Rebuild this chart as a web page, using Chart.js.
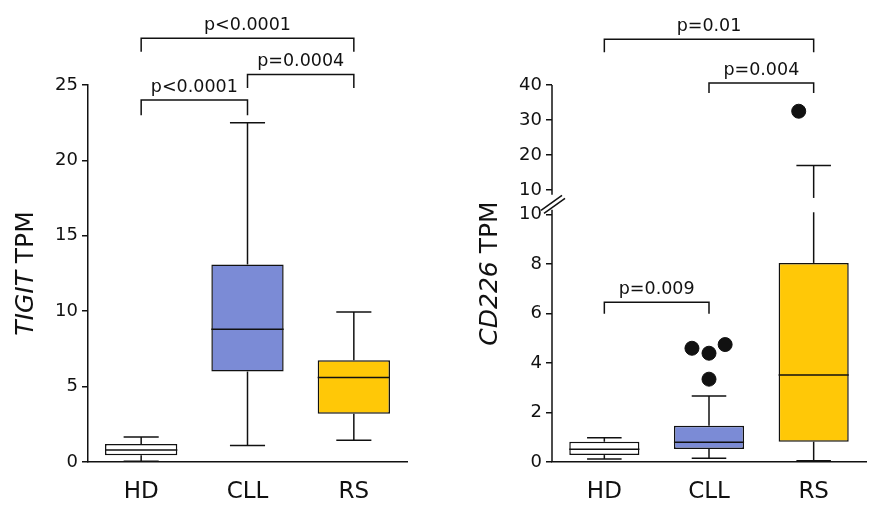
<!DOCTYPE html>
<html>
<head>
<meta charset="utf-8">
<script src="https://cdn.jsdelivr.net/npm/chart.js@4.4.1/dist/chart.umd.min.js"></script>
<style>
  html, body { margin: 0; padding: 0; background: #fff; }
  .panel { position: absolute; top: 0; width: 437px; height: 505px; }
  #left { left: 0; }
  #right { left: 437px; }
</style>
</head>
<body>
<div class="panel" id="left"><canvas id="tigitChart"></canvas></div>
<div class="panel" id="right"><canvas id="cd226Chart"></canvas></div>
<script>
// Grupos y colores
const grupos = ["HD", "CLL", "RS"];
const colores = ["#ffffff", "#7b8bd6", "#ffc807"];

// TIGIT TPM: bigote inferior, Q1, mediana, Q3, bigote superior
const tigitMin = [0.05, 1.1, 1.45];
const tigitQ1 = [0.45, 6.0, 3.2];
const tigitMediana = [0.8, 8.8, 5.6];
const tigitQ3 = [1.2, 13.1, 6.75];
const tigitMax = [1.65, 22.5, 9.95];
const tigitTicks = [0, 5, 10, 15, 20, 25];

// CD226 TPM (eje cortado en 10)
const cd226Min = [0.12, 0.15, 0.05];
const cd226Q1 = [0.28, 0.53, 0.82];
const cd226Mediana = [0.52, 0.8, 3.52];
const cd226Q3 = [0.82, 1.47, 8.05];
const cd226Max = [0.98, 2.67, 17];
const cd226AtipicosX = [0.81, 1, 1.18, 1, 2];
const cd226AtipicosY = [4.6, 4.4, 4.75, 3.35, 32.5];
const cd226TicksBajo = [0, 2, 4, 6, 8, 10];
const cd226TicksAlto = [10, 20, 30, 40];
const corte = 10;

// Comparaciones con p-valores
const tigitPares = [[0, 2], [0, 1], [1, 2]];
const tigitP = ["p<0.0001", "p<0.0001", "p=0.0004"];
const tigitNivel = [28.1, 24.0, 25.7];
const tigitPata = [27.2, 23.0, 24.8];

const cd226Pares = [[0, 2], [1, 2], [0, 1]];
const cd226P = ["p=0.01", "p=0.004", "p=0.009"];
const cd226Nivel = [53.1, 40.6, 6.46];
const cd226Pata = [49.4, 37.7, 6.0];
const cd226Eje = ["yAlto", "yAlto", "yBajo"];

Chart.defaults.font.family = '"DejaVu Sans", sans-serif';
Chart.defaults.color = "#111";
Chart.defaults.animation = false;

const negro = "#111";

function linea(ctx, x1, y1, x2, y2) {
    ctx.beginPath();
    ctx.moveTo(x1, y1);
    ctx.lineTo(x2, y2);
    ctx.stroke();
}

function tituloY(chart, gen) {
    const ctx = chart.ctx;
    const area = chart.chartArea;
    ctx.save();
    ctx.translate(area.left - 62, (area.top + area.bottom) / 2);
    ctx.rotate(-Math.PI / 2);
    const fI = 'italic 25px "DejaVu Sans"';
    const fN = '25px "DejaVu Sans"';
    ctx.font = fI;
    const w1 = ctx.measureText(gen).width;
    ctx.font = fN;
    const w2 = ctx.measureText(" TPM").width;
    const x0 = -(w1 + w2) / 2;
    ctx.fillStyle = negro;
    ctx.textAlign = "left";
    ctx.textBaseline = "middle";
    ctx.font = fI;
    ctx.fillText(gen, x0, 0);
    ctx.font = fN;
    ctx.fillText(" TPM", x0 + w1, 0);
    ctx.restore();
}

// Dibuja medianas, bigotes, corchetes y titulo
function pluginCajas(cfg) {
    return {
        id: "cajas_" + cfg.gen,
        afterDatasetsDraw(chart) {
            const ctx = chart.ctx;
            const x = chart.scales.x;
            const meta = chart.getDatasetMeta(0);
            const paso = x.getPixelForValue(1) - x.getPixelForValue(0);
            const tapa = paso * 0.165;
            ctx.save();
            ctx.strokeStyle = negro;
            ctx.lineWidth = 1.5;
            grupos.forEach((g, i) => {
                const cx = x.getPixelForValue(i);
                const mitad = meta.data[i].width / 2;
                const m = cfg.py(chart, cfg.mediana[i]);
                linea(ctx, cx - mitad, m, cx + mitad, m);
                [[cfg.q3[i], cfg.max[i]], [cfg.q1[i], cfg.min[i]]].forEach(([a, b]) => {
                    const trozos = cfg.trozos(chart, a, b);
                    trozos.forEach(t => linea(ctx, cx, t[0], cx, t[1]));
                    const fin = trozos[trozos.length - 1][1];
                    linea(ctx, cx - tapa, fin, cx + tapa, fin);
                });
            });
            ctx.restore();
        },
        afterDraw(chart) {
            const ctx = chart.ctx;
            const x = chart.scales.x;
            ctx.save();
            ctx.strokeStyle = negro;
            ctx.lineWidth = 1.5;
            ctx.fillStyle = negro;
            ctx.font = '17.5px "DejaVu Sans"';
            ctx.textAlign = "center";
            ctx.textBaseline = "alphabetic";
            cfg.pares.forEach((par, k) => {
                const y = chart.scales[cfg.ejes[k]];
                const x1 = x.getPixelForValue(par[0]);
                const x2 = x.getPixelForValue(par[1]);
                const yn = y.getPixelForValue(cfg.nivel[k]);
                const yp = y.getPixelForValue(cfg.pata[k]);
                ctx.beginPath();
                ctx.moveTo(x1, yp);
                ctx.lineTo(x1, yn);
                ctx.lineTo(x2, yn);
                ctx.lineTo(x2, yp);
                ctx.stroke();
                ctx.fillText(cfg.p[k], (x1 + x2) / 2, yn - 8);
            });
            if (cfg.extra) cfg.extra(chart);
            ctx.restore();
            tituloY(chart, cfg.gen);
        }
    };
}

const ejeX = {
    type: "category",
    grid: { display: false },
    border: { display: true, color: negro, width: 1.5 },
    ticks: { font: { size: 23 }, padding: 8, color: negro },
    afterFit(scale) { scale.height = 43; }
};

function ejeY(min, max, ticks, ancho, extra) {
    return Object.assign({
        type: "linear",
        position: "left",
        min: min,
        max: max,
        grid: { drawOnChartArea: false, drawTicks: true, tickLength: 6, color: negro, lineWidth: 1.5 },
        border: { display: true, color: negro, width: 1.5 },
        ticks: { font: { size: 18 }, padding: 4, color: negro, autoSkip: false },
        afterBuildTicks(scale) { scale.ticks = ticks.map(v => ({ value: v })); },
        afterFit(scale) { scale.width = ancho; }
    }, extra || {});
}

// Panel izquierdo: TIGIT
new Chart(document.getElementById("tigitChart"), {
    type: "bar",
    data: {
        labels: grupos,
        datasets: [{
            data: grupos.map((g, i) => [tigitQ1[i], tigitQ3[i]]),
            backgroundColor: colores,
            borderColor: negro,
            borderWidth: 1.5,
            borderSkipped: false,
            barPercentage: 0.68,
            categoryPercentage: 1
        }]
    },
    options: {
        responsive: true,
        maintainAspectRatio: false,
        layout: { padding: { top: 85, right: 30, bottom: 0, left: 0 } },
        plugins: { legend: { display: false }, tooltip: { enabled: false } },
        scales: {
            x: ejeX,
            y: ejeY(0, 25, tigitTicks, 88)
        }
    },
    plugins: [pluginCajas({
        gen: "TIGIT",
        mediana: tigitMediana, q1: tigitQ1, q3: tigitQ3, min: tigitMin, max: tigitMax,
        py: (chart, v) => chart.scales.y.getPixelForValue(v),
        trozos: (chart, a, b) => [[chart.scales.y.getPixelForValue(a), chart.scales.y.getPixelForValue(b)]],
        pares: tigitPares, p: tigitP, nivel: tigitNivel, pata: tigitPata,
        ejes: ["y", "y", "y"]
    })]
});

// Panel derecho: CD226 con eje cortado
const bajoMax = 10.48;
const altoMin = 6.29;

new Chart(document.getElementById("cd226Chart"), {
    type: "bar",
    data: {
        labels: grupos,
        datasets: [{
            data: grupos.map((g, i) => [cd226Q1[i], cd226Q3[i]]),
            backgroundColor: colores,
            borderColor: negro,
            borderWidth: 1.5,
            borderSkipped: false,
            grouped: false,
            barPercentage: 0.67,
            categoryPercentage: 1,
            xAxisID: "x",
            yAxisID: "yBajo"
        }, {
            type: "scatter",
            data: cd226AtipicosY.map((v, i) => ({ x: cd226AtipicosX[i], y: v })).filter(p => p.y <= corte),
            backgroundColor: negro,
            borderColor: negro,
            pointRadius: 7,
            xAxisID: "x2",
            yAxisID: "yBajo"
        }, {
            type: "scatter",
            data: cd226AtipicosY.map((v, i) => ({ x: cd226AtipicosX[i], y: v })).filter(p => p.y > corte),
            backgroundColor: negro,
            borderColor: negro,
            pointRadius: 7,
            xAxisID: "x2",
            yAxisID: "yAlto"
        }]
    },
    options: {
        responsive: true,
        maintainAspectRatio: false,
        layout: { padding: { top: 85, right: 0, bottom: 0, left: 0 } },
        plugins: { legend: { display: false }, tooltip: { enabled: false } },
        scales: {
            x: ejeX,
            x2: { type: "linear", position: "bottom", display: false, min: -0.5, max: 2.5 },
            yBajo: ejeY(0, bajoMax, cd226TicksBajo, 115, {
                stack: "cd", stackWeight: bajoMax * 24.75, weight: 0, border: { display: false }
            }),
            yAlto: ejeY(altoMin, 40, cd226TicksAlto, 115, {
                stack: "cd", stackWeight: (40 - altoMin) * 3.5, weight: 1, border: { display: false }
            })
        }
    },
    plugins: [pluginCajas({
        gen: "CD226",
        mediana: cd226Mediana, q1: cd226Q1, q3: cd226Q3, min: cd226Min, max: cd226Max,
        py: (chart, v) => chart.scales.yBajo.getPixelForValue(v),
        trozos: (chart, a, b) => {
            const bajo = chart.scales.yBajo, alto = chart.scales.yAlto;
            if (b <= corte) return [[bajo.getPixelForValue(a), bajo.getPixelForValue(b)]];
            return [[bajo.getPixelForValue(a), bajo.getPixelForValue(corte + 0.1)],
                    [alto.getPixelForValue(7.7), alto.getPixelForValue(b)]];
        },
        pares: cd226Pares, p: cd226P, nivel: cd226Nivel, pata: cd226Pata,
        ejes: cd226Eje,
        extra: (chart) => {
            // eje y en dos tramos con marcas de corte
            const ctx = chart.ctx;
            const bajo = chart.scales.yBajo, alto = chart.scales.yAlto;
            const x0 = chart.chartArea.left;
            linea(ctx, x0, bajo.getPixelForValue(0), x0, bajo.getPixelForValue(10.2));
            linea(ctx, x0, alto.getPixelForValue(40), x0, alto.getPixelForValue(8.6));
            const yb = (bajo.getPixelForValue(10.2) + alto.getPixelForValue(8.6)) / 2;
            linea(ctx, x0 - 11, yb + 8, x0 + 10, yb - 7);
            linea(ctx, x0 - 8, yb + 11, x0 + 13, yb - 4);
        }
    })]
});
</script>
</body>
</html>
